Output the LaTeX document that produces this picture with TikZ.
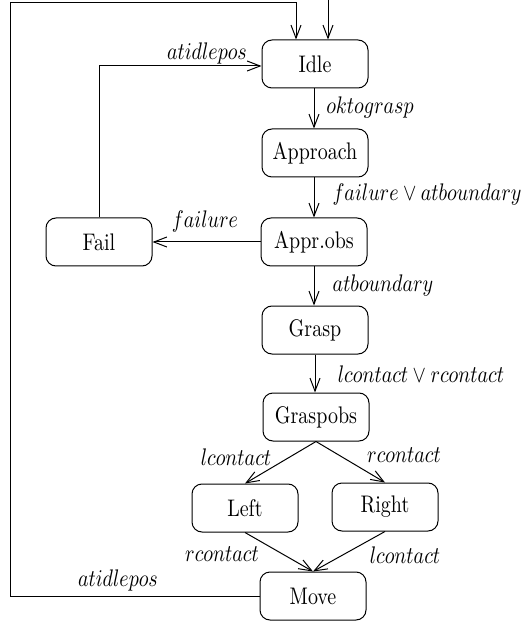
\documentclass[tikz,border=0pt]{standalone}
\usepackage{graphicx}
\usetikzlibrary{arrows.meta}
\newcommand\tallt[1]{\scalebox{1}[1.2]{#1}}
\begin{document}
\begin{tikzpicture}[x=0.5pt,y=-0.5pt,
  state/.style={draw,rounded corners=5pt,minimum width=53pt,minimum height=24pt,line width=0.5pt,inner sep=0pt,font=\fontsize{10}{12}\selectfont},
  trans/.style={line width=0.5pt,-{Straight Barb[length=6.5pt,width=5pt,line width=0.5pt]}},
  lbl/.style={inner sep=0pt,font=\fontsize{10}{12}\selectfont}]
\useasboundingbox (0,0) rectangle (527,625);
\node[state] (idle) at (315,64) {\tallt{Idle}};
\node[state] (appr) at (315,153) {\tallt{Approach}};
\node[state] (approbs) at (314,242) {\tallt{Appr.obs}};
\node[state] (fail) at (99,242) {\tallt{Fail}};
\node[state] (grasp) at (315,330) {\tallt{Grasp}};
\node[state] (graspobs) at (316,417) {\tallt{Graspobs}};
\node[state] (left) at (245,508) {\tallt{Left}};
\node[state] (right) at (385,507) {\tallt{Right}};
\node[state] (move) at (313,596) {\tallt{Move}};
\coordinate (entry) at (328,0);
\coordinate (loopA) at (10,596);
\coordinate (loopB) at (10,3);
\coordinate (loopC) at (296,3);
\coordinate (failTop) at (99,66);
\draw[trans] (entry) -- (entry |- idle.north);
\draw[trans] (move.west) -- (loopA) -- (loopB) -- (loopC) -- (loopC |- idle.north);
\draw[trans] (fail.north) -- (failTop) -- (idle.west |- failTop);
\draw[trans] (idle.south -| 314,0) -- (appr.north -| 314,0);
\draw[trans] (appr.south -| 314,0) -- (approbs.north -| 314,0);
\draw[trans] (approbs.west) -- (fail.east);
\draw[trans] (approbs.south -| 314,0) -- (grasp.north -| 314,0);
\draw[trans] (grasp.south -| 315,0) -- (graspobs.north -| 315,0);
\draw[trans] (graspobs.south) -- (left.north);
\draw[trans] (graspobs.south) -- (right.north);
\draw[trans] (left.south) -- (move.north);
\draw[trans] (right.south) -- (move.north);
\node[lbl] (l1) at (207,54) {\tallt{$atidlepos$}};
\node[lbl] (l2) at (370,108) {\tallt{$oktograsp$}};
\node[lbl] (l3) at (427,195) {\tallt{$failure \vee atboundary$}};
\node[lbl] (l4) at (205,222) {\tallt{$failure$}};
\node[lbl] (l5) at (383,286) {\tallt{$atboundary$}};
\node[lbl] (l6) at (421,374) {\tallt{$lcontact \vee rcontact$}};
\node[lbl] (l7) at (236,457) {\tallt{$lcontact$}};
\node[lbl] (l8) at (404,455) {\tallt{$rcontact$}};
\node[lbl] (l9) at (222,554) {\tallt{$rcontact$}};
\node[lbl] (l10) at (405,555) {\tallt{$lcontact$}};
\node[lbl] (l11) at (118,580) {\tallt{$atidlepos$}};
\end{tikzpicture}
\end{document}
